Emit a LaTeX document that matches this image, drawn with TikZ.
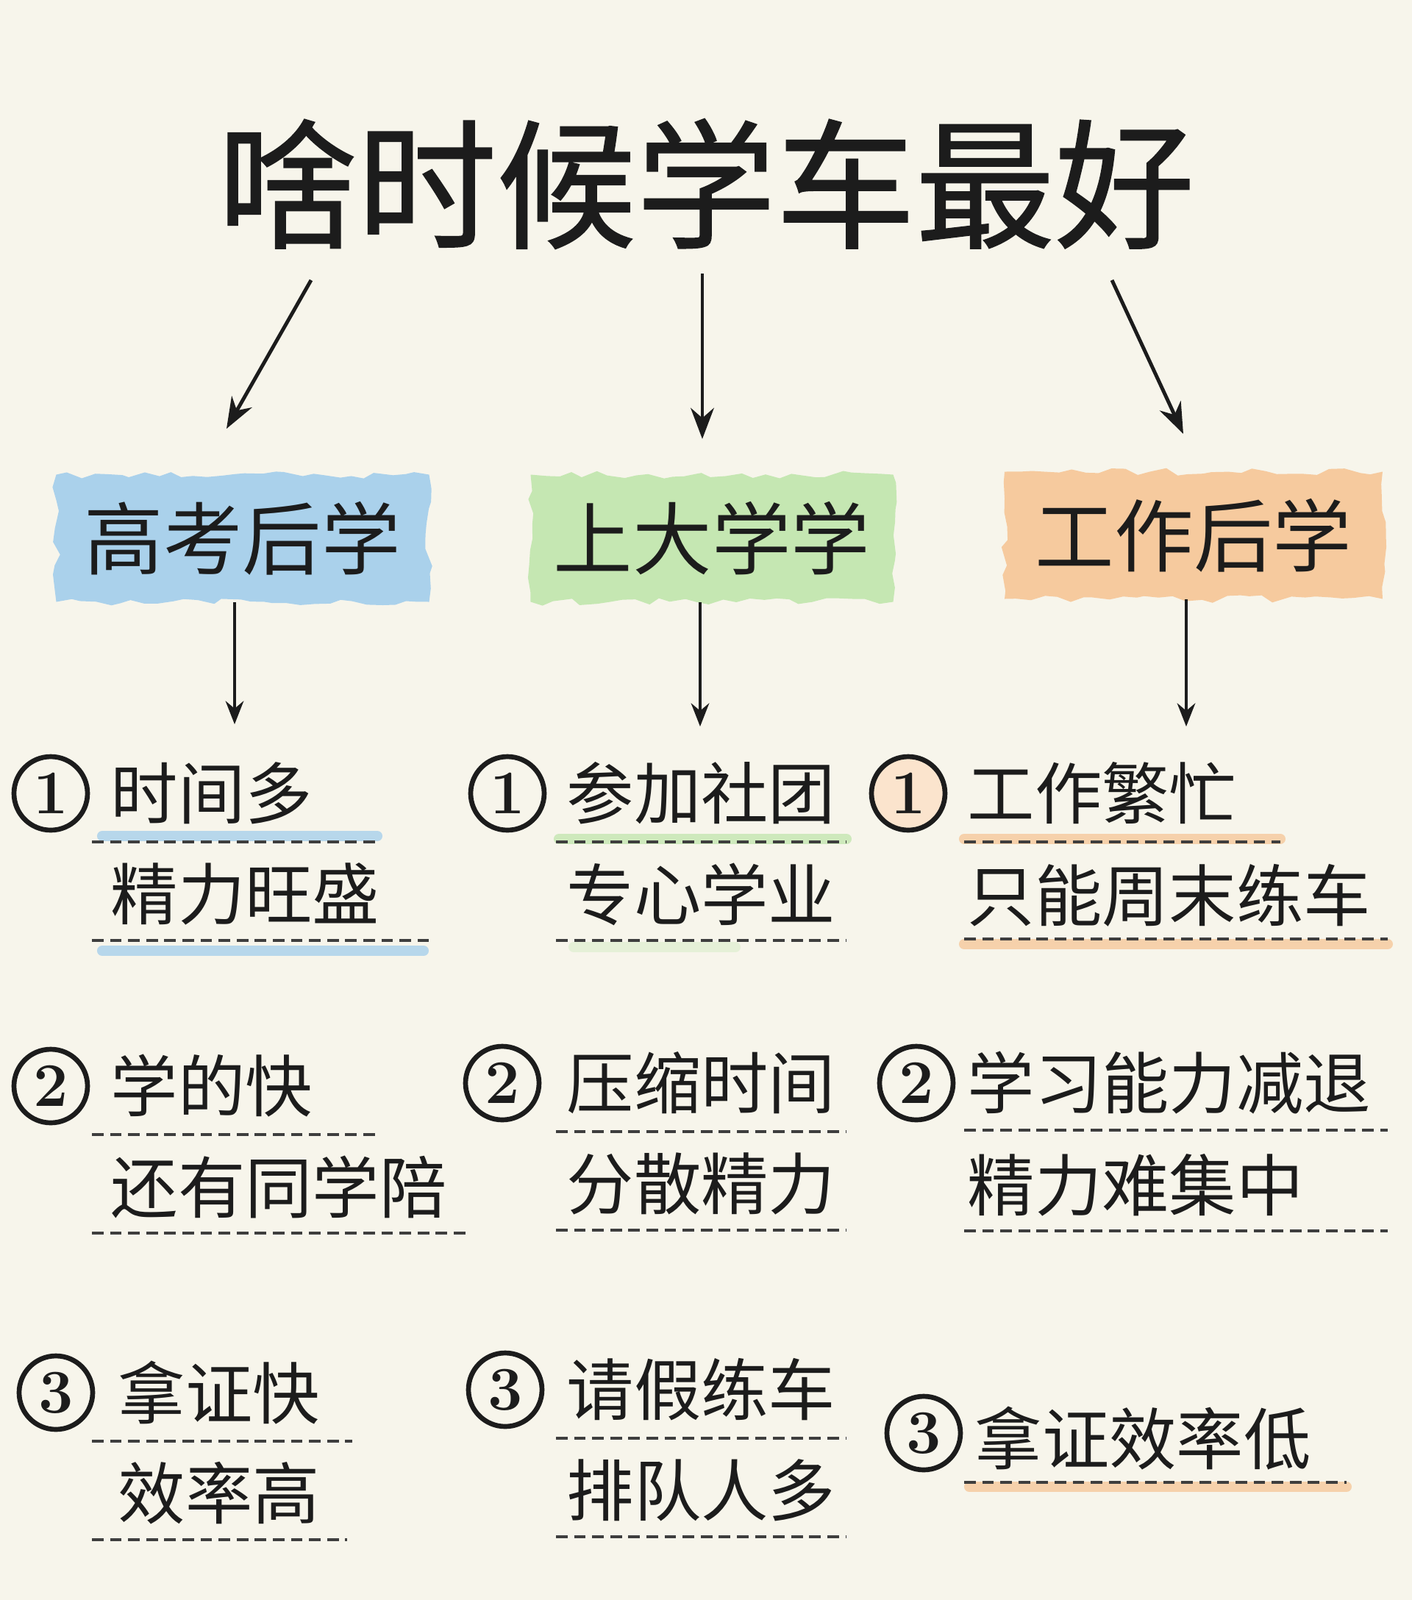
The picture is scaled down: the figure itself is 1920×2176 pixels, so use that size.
\documentclass[tikz,border=0pt]{standalone}
\usepackage{fontspec}
\newfontfamily\cjk{Noto Sans CJK SC}
\newfontfamily\cjkb[FakeBold=1]{Noto Sans CJK SC}
\usetikzlibrary{arrows.meta,decorations.pathmorphing}
\definecolor{paper}{HTML}{F7F5EB}
\definecolor{ink}{HTML}{1C1C1C}
\definecolor{hlblue}{HTML}{9DCBEB}
\definecolor{hlgreen}{HTML}{BDE5A9}
\definecolor{hlorange}{HTML}{F6C391}
\tikzset{
 titletxt/.style={inner sep=0pt,text=ink,font=\cjkb\fontsize{54}{60}\selectfont},
 head/.style={fill=#1,fill opacity=.85,text opacity=1,minimum height=1.73cm,text=ink,
   decorate,decoration={random steps,segment length=5pt,amplitude=1.5pt},font=\cjk\fontsize{30.6}{34}\selectfont},
 item/.style={anchor=west,inner sep=0pt,text=ink,font=\cjk\fontsize{26}{30}\selectfont},
 num/.style={circle,draw=ink,line width=1.9pt,minimum size=1.0cm,inner sep=0pt,text=ink,font=\bfseries\fontsize{24}{26}\selectfont},
 dashline/.style={draw=ink!85,line width=1.1pt,dash pattern=on 4.5pt off 2.5pt},
 hl/.style={draw=#1,line width=4pt,opacity=.7,line cap=round},
 arr/.style={draw=ink,line width=1.4pt,-{Stealth[length=12pt,width=9pt]}},
 arrs/.style={draw=ink,line width=1.1pt,-{Stealth[length=9pt,width=7pt]}}
}
\begin{document}
\begin{tikzpicture}[x=.1mm,y=-.1mm]
 \fill[paper] (0,0) rectangle (1920,2176); \useasboundingbox (0,0) rectangle (1920,2176);
 % title and the three ways
 \node[titletxt] (title) at (960,250) {啥时候学车最好};
 \node[head=hlblue,minimum width=5.07cm] (h1) at (330,732) {高考后学};
 \node[head=hlgreen,minimum width=4.93cm] (h2) at (968,732) {上大学学};
 \node[head=hlorange,minimum width=5.14cm] (h3) at (1623,728) {工作后学};
 \coordinate (s1) at (423,381); \coordinate (e1) at (308,583);
 \coordinate (s2) at (955,372); \coordinate (e2) at (955,597);
 \coordinate (s3) at (1512,381); \coordinate (e3) at (1609,590);
 \foreach \i in {1,2,3}{\draw[arr] (s\i) -- (e\i);}
 \coordinate (t1) at (319,985); \coordinate (t2) at (952,988); \coordinate (t3) at (1613,988);
 \draw[arrs] (h1.south -| t1) -- (t1); \draw[arrs] (h2.south -| t2) -- (t2); \draw[arrs] (h3.south -| t3) -- (t3);
 % colour strokes under the lines
 \draw[hl=hlblue] (139,1137) -- (513,1137); \draw[hl=hlblue] (139,1293) -- (576,1293);
 \draw[hl=hlgreen] (760,1141) -- (1151,1141); \draw[hl=hlgreen,opacity=.3] (780,1288) -- (1000,1288);
 \draw[hl=hlorange] (1311,1141) -- (1741,1141); \draw[hl=hlorange] (1311,1284) -- (1887,1284);
 \draw[hl=hlorange] (1318,2022) -- (1831,2022);
 % left column
 \foreach \k/\cx/\cy/\tx/\a/\b/\ea/\eb in {1/69/1079/150/时间多/精力旺盛/513/583,
   2/69/1477/150/学的快/还有同学陪/513/638, 3/76/1894/160/拿证快/效率高/479/472}{
  \node[num] (ln\k) at (\cx,\cy) {\k};
  \node[item] (la\k) at (\tx,\cy) {\a}; \node[item] (lb\k) at (\tx,\cy+137) {\b};
  \draw[dashline] (125,\cy+66) -- (\ea,\cy+66); \draw[dashline] (125,\cy+200) -- (\eb,\cy+200);}
 % middle column
 \foreach \k/\cx/\cy/\a/\b in {1/690/1079/参加社团/专心学业, 2/683/1473/压缩时间/分散精力, 3/687/1890/请假练车/排队人多}{
  \node[num] (mn\k) at (\cx,\cy) {\k};
  \node[item] (ma\k) at (770,\cy) {\a}; \node[item] (mb\k) at (770,\cy+137) {\b};
  \draw[dashline] (756,\cy+66) -- (1151,\cy+66); \draw[dashline] (756,\cy+200) -- (1151,\cy+200);}
 % right column
 \node[num,fill=hlorange!45] (rn1) at (1235,1079) {1};
 \node[item] (ra1) at (1315,1079) {工作繁忙}; \node[item] (rb1) at (1315,1218) {只能周末练车};
 \draw[dashline] (1311,1145) -- (1741,1145); \draw[dashline] (1311,1277) -- (1887,1277);
 \node[num] (rn2) at (1246,1473) {2};
 \node[item] (ra2) at (1315,1473) {学习能力减退}; \node[item] (rb2) at (1315,1612) {精力难集中};
 \draw[dashline] (1311,1537) -- (1887,1537); \draw[dashline] (1311,1674) -- (1887,1674);
 \node[num] (rn3) at (1256,1949) {3};
 \node[item] (ra3) at (1325,1956) {拿证效率低};
 \draw[dashline] (1311,2016) -- (1831,2016);
\end{tikzpicture}
\end{document}
